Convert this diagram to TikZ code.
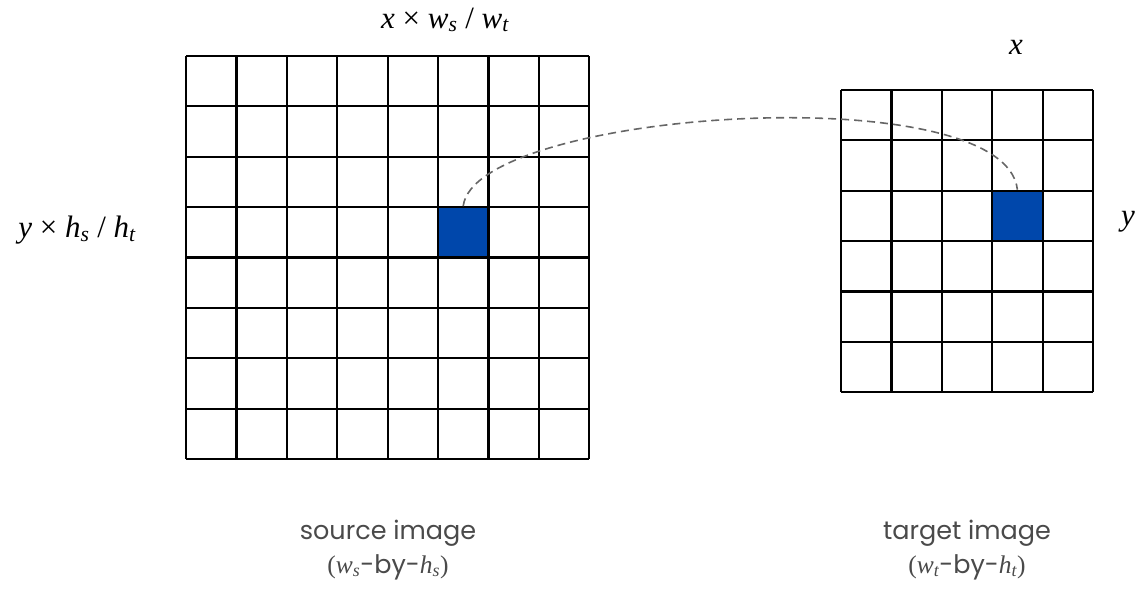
\documentclass[tikz,border=0pt]{standalone}
\usepackage{fontspec}
\setmainfont{Liberation Serif}
\newfontfamily\capfont{Poppins}
\usetikzlibrary{positioning}
\definecolor{pixblue}{HTML}{0047AB}
\definecolor{capgray}{HTML}{4A4A4A}
\definecolor{dashgray}{HTML}{666666}
\newcommand{\vsub}[2]{{\rmfamily\itshape #1\textsubscript{#2}}}
\newcommand{\rmpar}[1]{{\rmfamily #1}}

\begin{document}
\begin{tikzpicture}[x=1pt,y=-1pt]
\useasboundingbox (0,0) rectangle (1136,593);
\tikzset{gridline/.style={line width=2.2pt,black},
  pixel/.style={draw=black,line width=2.2pt,fill=pixblue,minimum size=50.4pt,inner sep=0pt},
  mathlbl/.style={font=\fontsize{31}{36}\selectfont},
  caption/.style={text=capgray,font=\capfont\fontsize{25.5}{30}\selectfont},
  link/.style={dashgray,line width=1.6pt,dash pattern=on 8pt off 5pt}}
\foreach \i in {0,...,8}{\draw[gridline] (186+50.4*\i,56)--(186+50.4*\i,459.2);\draw[gridline] (186,56+50.4*\i)--(589.2,56+50.4*\i);}
\foreach \i in {0,...,5}{\draw[gridline] (841+50.4*\i,90)--(841+50.4*\i,392.4);}
\foreach \j in {0,...,6}{\draw[gridline] (841,90+50.4*\j)--(1093,90+50.4*\j);}
\node[pixel] (srcpx) at (463.2,232.4) {};
\node[pixel] (tgtpx) at (1017.4,216) {};
\draw[link] (srcpx.north) .. controls (475,110) and (1005,75) .. (tgtpx.north);
\node[mathlbl] (srcx) at (445,20) {\textit{x} × \vsub{w}{s} / \vsub{w}{t}};
\node[mathlbl] (srcy) at (77,230) {\textit{y} × \vsub{h}{s} / \vsub{h}{t}};
\node[mathlbl] (tgtx) at (1016,47) {\textit{x}};
\node[mathlbl,anchor=east,inner sep=0pt] (tgty) at (1135,222) {\textit{y}};
\node[caption] (srccap) at (388,533) {source image};
\node[caption] (srcdim) at (388,567) {\rmpar{(}\vsub{w}{s}-by-\vsub{h}{s}\rmpar{)}};
\node[caption] (tgtcap) at (967,533) {target image};
\node[caption] (tgtdim) at (967,567) {\rmpar{(}\vsub{w}{t}-by-\vsub{h}{t}\rmpar{)}};
\end{tikzpicture}
\end{document}
